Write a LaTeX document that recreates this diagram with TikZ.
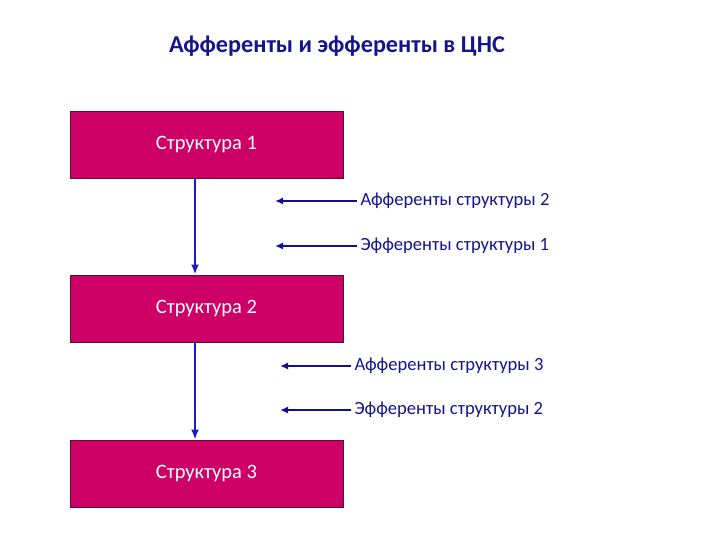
\documentclass[tikz,border=0pt]{standalone}
\usepackage{fontspec}
\setmainfont{Carlito}
\usepackage{tikz}
\usetikzlibrary{arrows.meta}

\definecolor{boxfill}{HTML}{CC0066}
\definecolor{boxline}{HTML}{5A1028}
\definecolor{labelblue}{HTML}{14148C}
\definecolor{vblue}{HTML}{1A1AC0}
\definecolor{hblue}{HTML}{10108A}

\tikzset{
  struct/.style={draw=boxline,fill=boxfill,text=white,line width=0.9pt,
    minimum width=273pt,minimum height=67pt,font=\fontsize{20.5}{23}\selectfont},
  flowlabel/.style={anchor=west,text=labelblue,font=\fontsize{18.6}{21}\selectfont},
  down/.style={-{Latex[length=10pt,width=8pt]},draw=vblue,line width=2.6pt},
  back/.style={-{Latex[length=8pt,width=7pt]},draw=hblue,line width=2.4pt}
}

\begin{document}
\begin{tikzpicture}[x=1pt,y=-1pt]
        \useasboundingbox (0,0) rectangle (720,540);
        \node[text=labelblue,font=\bfseries\fontsize{24.2}{27}\selectfont] (title) at (337,46) {Афференты и эфференты в ЦНС};

        \node[struct] (s1) at (206.5,144.5) {Структура 1};
        \node[struct] (s2) at (206.5,308.5) {Структура 2};
        \node[struct] (s3) at (206.5,473.5) {Структура 3};

        \node[flowlabel] (a2) at (357,201) {Афференты структуры 2};
        \node[flowlabel] (e1) at (357,246) {Эфференты структуры 1};
        \node[flowlabel] (a3) at (351,366) {Афференты структуры 3};
        \node[flowlabel] (e2) at (351,410) {Эфференты структуры 2};

        \coordinate (ta2) at (275,201);
        \coordinate (te1) at (275,246);
        \coordinate (ta3) at (280,366);
        \coordinate (te2) at (280,410);

        \draw[down] ([xshift=-11.5pt]s1.south) -- ([xshift=-11.5pt]s2.north);
        \draw[down] ([xshift=-11.5pt]s2.south) -- ([xshift=-11.5pt]s3.north);
        \draw[back] (a2.west) -- (ta2);
        \draw[back] (e1.west) -- (te1);
        \draw[back] (a3.west) -- (ta3);
        \draw[back] (e2.west) -- (te2);
      \end{tikzpicture}
\end{document}
